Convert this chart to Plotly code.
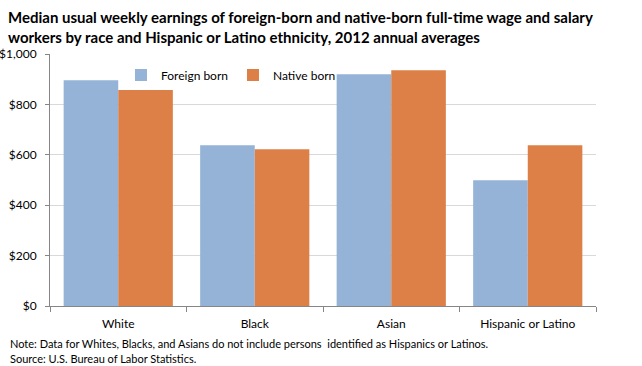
import plotly.graph_objects as go

categories = ["White", "Black", "Asian", "Hispanic or Latino"]
foreign_born = [896, 638, 920, 499]
native_born = [857, 622, 936, 638]
y_ticks = [0, 200, 400, 600, 800, 1000]
y_tick_labels = ["$0", "$200", "$400", "$600", "$800", "$1,000"]

FONT = "Lato, Carlito, Calibri, sans-serif"

fig = go.Figure()
fig.add_trace(go.Bar(name="Foreign born", x=categories, y=foreign_born,
                     marker=dict(color="#95B3D7", line=dict(width=0))))
fig.add_trace(go.Bar(name="Native born", x=categories, y=native_born,
                     marker=dict(color="#DD8047", line=dict(width=0))))

fig.update_layout(
    width=642, height=366,
    margin=dict(l=50, r=46, t=54, b=60, autoexpand=False),
    paper_bgcolor="white", plot_bgcolor="white",
    font=dict(family=FONT, size=12, color="#000000"),
    barmode="group", bargap=0.2, bargroupgap=0,
    title=dict(
        text="<b>Median usual weekly earnings of foreign-born and native-born full-time wage and salary<br>workers by race and Hispanic or Latino ethnicity, 2012 annual averages</b>",
        x=8/642, xanchor="left", xref="container",
        y=1-23/366, yanchor="top", yref="container",
        font=dict(family=FONT, size=15, color="#000000"),
    ),
    legend=dict(orientation="h", x=0.13, y=1-21/252, xanchor="left", yanchor="middle",
                bgcolor="rgba(0,0,0,0)", font=dict(size=12), itemwidth=30,
                traceorder="normal"),
    xaxis=dict(showline=True, linecolor="#868686", linewidth=1, automargin=False,
               ticks="outside", tickson="boundaries", ticklen=5, tickcolor="#868686",
               ticklabelstandoff=7, tickfont=dict(size=12), showgrid=False),
    yaxis=dict(range=[0, 1000], tickvals=y_ticks, ticktext=y_tick_labels,
               showline=True, linecolor="#868686", linewidth=1, automargin=False,
               ticks="outside", ticklen=4, tickcolor="#868686", ticklabelstandoff=6,
               showgrid=True, gridcolor="#D9D9D9", gridwidth=1,
               tickfont=dict(size=12), zeroline=False),
    annotations=[
        dict(text="Note: Data for Whites, Blacks, and Asians do not include persons  identified as Hispanics or Latinos.",
             xref="paper", yref="paper", x=-42/546, y=-37/252, xanchor="left", yanchor="middle",
             showarrow=False, font=dict(size=11)),
        dict(text="Source: U.S. Bureau of Labor Statistics.",
             xref="paper", yref="paper", x=-42/546, y=-52/252, xanchor="left", yanchor="middle",
             showarrow=False, font=dict(size=11)),
    ],
)

fig.write_html("out.html", config={"displayModeBar": False},
               post_script="document.body.style.margin='0px';")
